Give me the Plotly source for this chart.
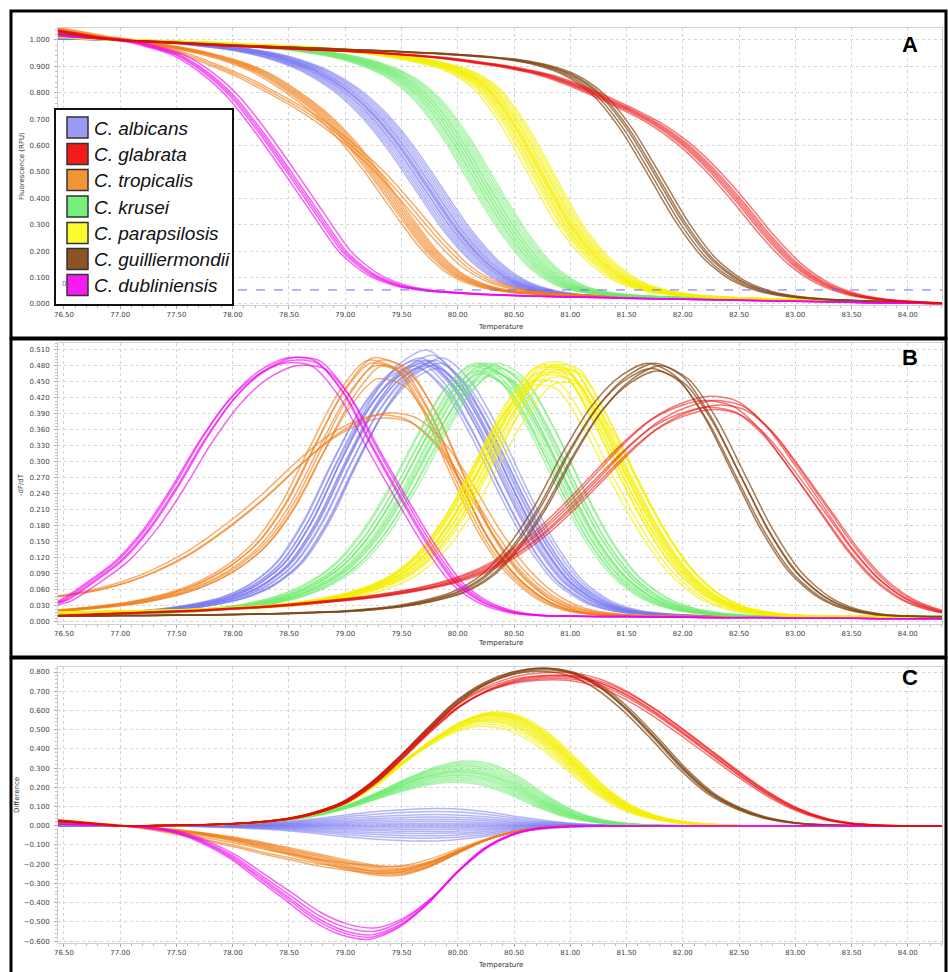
import plotly.graph_objects as go

# ---------------- data ----------------
TEMPS = [76.25, 76.50, 76.75, 77.00, 77.25, 77.50, 77.75, 78.00, 78.25, 78.50, 78.75,
         79.00, 79.25, 79.50, 79.75, 80.00, 80.25, 80.50, 80.75, 81.00, 81.25, 81.50,
         81.75, 82.00, 82.25, 82.50, 82.75, 83.00, 83.25, 83.50, 83.75, 84.00, 84.25, 84.50]

SPECIES = ["C. albicans", "C. glabrata", "C. tropicalis", "C. krusei",
           "C. parapsilosis", "C. guilliermondii", "C. dubliniensis"]

# Panel A : normalised fluorescence (RFU)
A_albicans = [1.007, 1.005, 1.002, 1.0, 0.995, 0.99, 0.981, 0.968, 0.95, 0.922, 0.88, 0.815, 0.72, 0.59, 0.435, 0.28, 0.16,
              0.085, 0.05, 0.035, 0.029, 0.026, 0.023, 0.021, 0.019, 0.017, 0.015, 0.013, 0.011, 0.009, 0.007, 0.005, 0.004, 0.003]
A_glabrata = [1.045, 1.03, 1.012, 1.0, 0.993, 0.988, 0.982, 0.977, 0.972, 0.967, 0.962, 0.958, 0.952, 0.945, 0.936, 0.925,
              0.91, 0.893, 0.87, 0.835, 0.79, 0.74, 0.685, 0.61, 0.51, 0.39, 0.26, 0.15, 0.078, 0.038, 0.018, 0.009, 0.004, 0.002]
A_tropicalis = [1.045, 1.03, 1.012, 1.0, 0.987, 0.97, 0.948, 0.918, 0.875, 0.81, 0.73, 0.625, 0.49, 0.34, 0.2, 0.107, 0.064,
                0.045, 0.037, 0.033, 0.03, 0.028, 0.026, 0.024, 0.022, 0.019, 0.016, 0.013, 0.01, 0.008, 0.005, 0.003, 0.002, 0.001]
A_tropicalis_broad = [1.05, 1.035, 1.015, 1.0, 0.975, 0.945, 0.905, 0.86, 0.805, 0.745, 0.675, 0.59, 0.49, 0.37, 0.245, 0.14,
                      0.08, 0.052, 0.04, 0.034, 0.03, 0.028, 0.026, 0.024, 0.022, 0.019, 0.016, 0.013, 0.01, 0.008, 0.005, 0.003, 0.002, 0.001]
A_krusei = [1.015, 1.01, 1.004, 1.0, 0.996, 0.993, 0.988, 0.982, 0.975, 0.966, 0.953, 0.935, 0.905, 0.855, 0.765, 0.62, 0.44,
            0.27, 0.14, 0.07, 0.042, 0.032, 0.027, 0.024, 0.022, 0.02, 0.017, 0.015, 0.012, 0.01, 0.007, 0.005, 0.004, 0.003]
A_parapsilosis = [1.02, 1.015, 1.005, 1.0, 0.997, 0.993, 0.99, 0.985, 0.98, 0.975, 0.968, 0.96, 0.95, 0.935, 0.915, 0.885,
                  0.82, 0.68, 0.49, 0.3, 0.17, 0.09, 0.052, 0.035, 0.027, 0.022, 0.019, 0.016, 0.013, 0.01, 0.007, 0.005, 0.004, 0.003]
A_guilliermondii = [1.03, 1.02, 1.008, 1.0, 0.995, 0.99, 0.985, 0.98, 0.976, 0.972, 0.968, 0.964, 0.96, 0.955, 0.95, 0.944,
                    0.936, 0.925, 0.905, 0.868, 0.795, 0.665, 0.49, 0.31, 0.17, 0.088, 0.046, 0.027, 0.018, 0.013, 0.009, 0.005, 0.003, 0.002]
A_dubliniensis = [1.03, 1.015, 1.007, 1.0, 0.978, 0.945, 0.88, 0.785, 0.65, 0.5, 0.345, 0.195, 0.11, 0.068, 0.05, 0.042,
                  0.036, 0.032, 0.029, 0.026, 0.024, 0.022, 0.02, 0.018, 0.016, 0.014, 0.012, 0.01, 0.008, 0.006, 0.004, 0.003, 0.002, 0.001]

# Panel B : -dF/dT
B_albicans = [0.013, 0.014, 0.015, 0.017, 0.02, 0.025, 0.033, 0.045, 0.068, 0.11, 0.19, 0.3, 0.4, 0.465, 0.49, 0.445, 0.355,
              0.245, 0.145, 0.075, 0.038, 0.021, 0.015, 0.012, 0.011, 0.01, 0.01, 0.01, 0.009, 0.009, 0.009, 0.008, 0.008, 0.008]
B_glabrata = [0.011, 0.012, 0.014, 0.016, 0.018, 0.02, 0.022, 0.025, 0.028, 0.032, 0.037, 0.042, 0.048, 0.056, 0.066, 0.08,
              0.1, 0.13, 0.17, 0.22, 0.275, 0.33, 0.375, 0.402, 0.415, 0.405, 0.36, 0.29, 0.215, 0.14, 0.08, 0.042, 0.022, 0.013]
B_tropicalis = [0.018, 0.022, 0.027, 0.033, 0.042, 0.055, 0.075, 0.105, 0.15, 0.225, 0.33, 0.43, 0.49, 0.475, 0.395, 0.275,
                0.165, 0.09, 0.045, 0.022, 0.014, 0.012, 0.011, 0.01, 0.01, 0.009, 0.009, 0.008, 0.008, 0.008, 0.007, 0.007, 0.007, 0.007]
B_tropicalis_broad = [0.045, 0.052, 0.062, 0.077, 0.098, 0.125, 0.16, 0.2, 0.245, 0.295, 0.34, 0.372, 0.388, 0.38, 0.335,
                      0.26, 0.172, 0.1, 0.052, 0.026, 0.016, 0.012, 0.011, 0.01, 0.01, 0.009, 0.009, 0.008, 0.008, 0.008, 0.007, 0.007, 0.007, 0.007]
B_krusei = [0.013, 0.014, 0.015, 0.016, 0.017, 0.019, 0.022, 0.027, 0.035, 0.048, 0.07, 0.105, 0.165, 0.25, 0.35, 0.44, 0.485,
            0.455, 0.365, 0.255, 0.155, 0.085, 0.045, 0.025, 0.016, 0.012, 0.011, 0.01, 0.01, 0.009, 0.009, 0.008, 0.008, 0.008]
B_parapsilosis = [0.017, 0.018, 0.019, 0.02, 0.021, 0.022, 0.024, 0.026, 0.029, 0.033, 0.04, 0.05, 0.065, 0.09, 0.135, 0.21,
                  0.31, 0.41, 0.475, 0.47, 0.385, 0.275, 0.175, 0.098, 0.05, 0.026, 0.016, 0.012, 0.011, 0.01, 0.01, 0.009, 0.009, 0.009]
B_guilliermondii = [0.011, 0.011, 0.011, 0.012, 0.012, 0.013, 0.013, 0.014, 0.015, 0.016, 0.018, 0.02, 0.024, 0.03, 0.04,
                    0.055, 0.085, 0.14, 0.22, 0.32, 0.405, 0.46, 0.485, 0.46, 0.385, 0.28, 0.175, 0.095, 0.048, 0.024, 0.014, 0.011, 0.01, 0.01]
B_dubliniensis = [0.028, 0.04, 0.075, 0.115, 0.175, 0.255, 0.345, 0.42, 0.47, 0.495, 0.49, 0.43, 0.33, 0.235, 0.145, 0.072,
                  0.035, 0.018, 0.012, 0.011, 0.01, 0.01, 0.009, 0.009, 0.008, 0.008, 0.008, 0.007, 0.007, 0.007, 0.006, 0.006, 0.006, 0.006]

# Panel C : difference
C_albicans = [0, 0, 0, 0, 0, 0.002, 0.005, 0.01, 0.017, 0.027, 0.042, 0.06, 0.075, 0.085, 0.09, 0.085, 0.068, 0.045, 0.025,
              0.011, 0.004, 0.001, 0, 0, 0, 0, 0, 0, 0, 0, 0, 0, 0, 0]
C_glabrata = [0.035, 0.025, 0.012, 0, 0, 0.002, 0.005, 0.01, 0.02, 0.037, 0.07, 0.125, 0.225, 0.36, 0.5, 0.625, 0.71, 0.76,
              0.78, 0.78, 0.75, 0.685, 0.595, 0.49, 0.38, 0.27, 0.17, 0.09, 0.038, 0.012, 0.003, 0, 0, 0]
C_tropicalis = [0.03, 0.022, 0.011, 0, -0.01, -0.025, -0.045, -0.07, -0.1, -0.135, -0.17, -0.205, -0.235, -0.24, -0.205, -0.14,
                -0.075, -0.032, -0.01, -0.002, 0, 0, 0, 0, 0, 0, 0, 0, 0, 0, 0, 0, 0, 0]
C_tropicalis_broad = [0.035, 0.026, 0.013, 0, -0.02, -0.045, -0.075, -0.105, -0.14, -0.17, -0.2, -0.22, -0.235, -0.225, -0.18,
                      -0.12, -0.065, -0.028, -0.008, 0, 0, 0, 0, 0, 0, 0, 0, 0, 0, 0, 0, 0, 0, 0]
C_krusei = [0.015, 0.01, 0.005, 0, 0, 0.002, 0.005, 0.01, 0.02, 0.035, 0.06, 0.1, 0.155, 0.215, 0.265, 0.29, 0.275, 0.215, 0.13,
            0.062, 0.025, 0.008, 0.002, 0, 0, 0, 0, 0, 0, 0, 0, 0, 0, 0]
C_parapsilosis = [0.02, 0.015, 0.008, 0, 0, 0.002, 0.005, 0.01, 0.02, 0.038, 0.07, 0.125, 0.215, 0.33, 0.44, 0.53, 0.575, 0.555,
                  0.47, 0.34, 0.2, 0.1, 0.045, 0.018, 0.006, 0, 0, 0, 0, 0, 0, 0, 0, 0]
C_guilliermondii = [0.03, 0.02, 0.01, 0, 0, 0.002, 0.005, 0.01, 0.02, 0.037, 0.07, 0.125, 0.225, 0.36, 0.51, 0.65, 0.745, 0.8,
                    0.82, 0.8, 0.73, 0.61, 0.46, 0.3, 0.17, 0.09, 0.04, 0.015, 0.005, 0.001, 0, 0, 0, 0]
C_dubliniensis = [0.01, 0.008, 0.004, 0, -0.01, -0.035, -0.09, -0.17, -0.28, -0.39, -0.5, -0.57, -0.59, -0.53, -0.41, -0.25,
                  -0.12, -0.045, -0.012, -0.003, 0, 0, 0, 0, 0, 0, 0, 0, 0, 0, 0, 0, 0, 0]

# replicate wells: temperature offsets and amplitude factors (B and C)
SHIFT_albicans = [-0.13, -0.11, -0.09, -0.07, -0.05, -0.04, -0.02, -0.01, 0.0, 0.01, 0.03, 0.04, 0.06, 0.08, 0.10, 0.12]
BSCALE_albicans = [0.98, 1.0, 0.97, 1.01, 0.99, 1.0, 1.04, 0.98, 1.0, 0.99, 1.02, 0.98, 1.0, 0.97, 0.99, 1.01]
CSCALE_albicans = [-0.88, -0.72, -0.58, -0.45, -0.33, -0.22, -0.12, -0.03, 0.06, 0.15, 0.26, 0.38, 0.5, 0.65, 0.82, 1.0]

SHIFT_glabrata = [-0.06, -0.03, -0.01, 0.01, 0.03, 0.06]
BSCALE_glabrata = [1.0, 0.97, 1.02, 0.96, 1.0, 0.98]
CSCALE_glabrata = [0.97, 1.0, 0.98, 1.02, 0.99, 1.0]

SHIFT_tropicalis = [-0.06, -0.03, -0.01, 0.01, 0.03, 0.05, 0.07]
BSCALE_tropicalis = [1.0, 0.99, 1.01, 0.98, 0.93, 1.0, 0.98]
CSCALE_tropicalis = [1.08, 1.05, 1.02, 0.99, 0.95, 0.92, 0.88]
SHIFT_tropicalis_broad = [0.04, 0.08, 0.12]
BSCALE_tropicalis_broad = [1.0, 0.985, 1.01]
CSCALE_tropicalis_broad = [1.05, 1.0, 0.9]

SHIFT_krusei = [-0.12, -0.10, -0.08, -0.06, -0.05, -0.03, -0.02, 0.0, 0.01, 0.03, 0.04, 0.06, 0.08, 0.10, 0.12]
BSCALE_krusei = [0.99, 1.0, 0.97, 1.0, 0.96, 0.99, 1.0, 0.98, 0.95, 1.0, 0.97, 0.99, 0.96, 1.0, 0.98]
CSCALE_krusei = [0.78, 0.81, 0.84, 0.87, 0.9, 0.92, 0.95, 0.97, 0.99, 1.01, 1.04, 1.07, 1.1, 1.13, 1.16]

SHIFT_parapsilosis = [-0.12, -0.09, -0.07, -0.05, -0.04, -0.02, -0.01, 0.0, 0.01, 0.02, 0.04, 0.05, 0.07, 0.09, 0.11]
BSCALE_parapsilosis = [0.93, 0.95, 1.0, 0.98, 1.01, 0.97, 1.0, 0.99, 1.02, 0.98, 1.0, 0.96, 1.01, 0.99, 0.94]
CSCALE_parapsilosis = [0.9, 0.92, 0.94, 0.95, 0.96, 0.97, 0.98, 0.99, 1.0, 1.0, 1.01, 1.01, 1.02, 1.02, 1.03]

SHIFT_guilliermondii = [-0.06, -0.03, 0.0, 0.02, 0.05]
BSCALE_guilliermondii = [1.0, 0.98, 1.0, 0.97, 0.99]
CSCALE_guilliermondii = [0.98, 1.0, 1.0, 0.99, 1.0]

SHIFT_dubliniensis = [-0.05, -0.02, 0.0, 0.02, 0.06]
BSCALE_dubliniensis = [0.98, 1.0, 0.99, 1.0, 0.97]
CSCALE_dubliniensis = [1.0, 0.98, 0.96, 0.93, 0.9]

THRESHOLD = 0.053

# tick values
X_TICKS = [76.5, 77.0, 77.5, 78.0, 78.5, 79.0, 79.5, 80.0, 80.5, 81.0, 81.5, 82.0, 82.5, 83.0, 83.5, 84.0]

# ---------------- styling ----------------
W, H = 948, 972
LINE = {
    "C. albicans": "rgba(120,120,240,0.55)",
    "C. glabrata": "rgba(235,10,10,0.55)",
    "C. tropicalis": "rgba(240,125,20,0.62)",
    "C. krusei": "rgba(110,235,110,0.55)",
    "C. parapsilosis": "rgba(245,240,0,0.65)",
    "C. guilliermondii": "rgba(130,72,22,0.72)",
    "C. dubliniensis": "rgba(240,0,240,0.62)",
}
SWATCH = {
    "C. albicans": "#9b9bf5",
    "C. glabrata": "#f01c1c",
    "C. tropicalis": "#f59436",
    "C. krusei": "#76ee7a",
    "C. parapsilosis": "#fbfb30",
    "C. guilliermondii": "#8c5424",
    "C. dubliniensis": "#f51cf0",
}

def px(x):
    return x / W

def py(y):
    return 1 - y / H

groups = [
    ("C. albicans", A_albicans, B_albicans, C_albicans, SHIFT_albicans, BSCALE_albicans, CSCALE_albicans),
    ("C. tropicalis", A_tropicalis, B_tropicalis, C_tropicalis, SHIFT_tropicalis, BSCALE_tropicalis, CSCALE_tropicalis),
    ("C. tropicalis", A_tropicalis_broad, B_tropicalis_broad, C_tropicalis_broad, SHIFT_tropicalis_broad,
     BSCALE_tropicalis_broad, CSCALE_tropicalis_broad),
    ("C. krusei", A_krusei, B_krusei, C_krusei, SHIFT_krusei, BSCALE_krusei, CSCALE_krusei),
    ("C. parapsilosis", A_parapsilosis, B_parapsilosis, C_parapsilosis, SHIFT_parapsilosis, BSCALE_parapsilosis,
     CSCALE_parapsilosis),
    ("C. guilliermondii", A_guilliermondii, B_guilliermondii, C_guilliermondii, SHIFT_guilliermondii,
     BSCALE_guilliermondii, CSCALE_guilliermondii),
    ("C. dubliniensis", A_dubliniensis, B_dubliniensis, C_dubliniensis, SHIFT_dubliniensis, BSCALE_dubliniensis,
     CSCALE_dubliniensis),
    ("C. glabrata", A_glabrata, B_glabrata, C_glabrata, SHIFT_glabrata, BSCALE_glabrata, CSCALE_glabrata),
]

fig = go.Figure()
for sp, a, b, c, shifts, bsc, csc in groups:
    col = LINE[sp]
    for s, kb, kc in zip(shifts, bsc, csc):
        xs = [t + s for t in TEMPS]
        common = dict(mode="lines", line=dict(color=col, width=1.5, shape="spline", smoothing=0.8),
                      showlegend=False, hoverinfo="skip")
        fig.add_trace(go.Scatter(x=xs, y=a, xaxis="x", yaxis="y", **common))
        fig.add_trace(go.Scatter(x=xs, y=[v * kb for v in b], xaxis="x2", yaxis="y2", **common))
        fig.add_trace(go.Scatter(x=[t + s * 0.5 for t in TEMPS], y=[v * kc for v in c], xaxis="x3", yaxis="y3",
                                 **common))

XR = [76.447, 84.304]
XDOM = [px(58), px(942)]
tickfont = dict(family="DejaVu Sans", size=7, color="#444")

def xaxis(anchor):
    return dict(domain=XDOM, range=XR, anchor=anchor, tickvals=X_TICKS, tickformat=".2f",
                showgrid=True, gridcolor="#d4d4d4", griddash="dot", gridwidth=1,
                showline=True, mirror=True, linecolor="#d0d0d0", linewidth=1,
                ticks="outside", ticklen=3, tickcolor="#aaa", tickfont=tickfont,
                minor=dict(ticks="outside", ticklen=2, dtick=0.1, tick0=76.5, tickcolor="#bbb", showgrid=False),
                zeroline=False, automargin=False, fixedrange=True)

def yaxis(anchor, dom, rng, dtick, minor):
    return dict(domain=dom, range=rng, anchor=anchor, dtick=dtick, tick0=0, tickformat=".3f",
                showgrid=True, gridcolor="#d4d4d4", griddash="dot", gridwidth=1,
                showline=True, mirror=True, linecolor="#d0d0d0", linewidth=1,
                ticks="outside", ticklen=3, tickcolor="#aaa", tickfont=tickfont, ticklabelstandoff=3,
                minor=dict(ticks="outside", ticklen=2, dtick=minor, tick0=0, tickcolor="#bbb", showgrid=False),
                zeroline=False, automargin=False, fixedrange=True)

fig.update_layout(
    width=W, height=H, margin=dict(l=0, r=0, t=0, b=0),
    paper_bgcolor="white", plot_bgcolor="white",
    xaxis=xaxis("y"), xaxis2=xaxis("y2"), xaxis3=xaxis("y3"),
    yaxis=yaxis("x", [py(305), py(28)], [-0.004, 1.045], 0.1, 0.02),
    yaxis2=yaxis("x2", [py(624), py(343)], [-0.004, 0.523], 0.03, 0.006),
    yaxis3=yaxis("x3", [py(943), py(667)], [-0.61, 0.826], 0.1, 0.02),
)

shapes = []
shapes.append(dict(type="line", xref="x", yref="y", x0=XR[0], x1=XR[1], y0=THRESHOLD, y1=THRESHOLD,
                   line=dict(color="#6a6aee", width=1, dash="dash"), layer="above"))
for (y0, y1) in [(11, 338), (339, 657), (658, 990)]:
    shapes.append(dict(type="rect", xref="paper", yref="paper", x0=px(11), x1=px(946), y0=py(y1), y1=py(y0),
                       line=dict(color="black", width=3), fillcolor="rgba(0,0,0,0)", layer="above"))
shapes.append(dict(type="rect", xref="paper", yref="paper", x0=px(55), x1=px(233), y0=py(305), y1=py(109),
                   line=dict(color="#111", width=2), fillcolor="white", layer="above"))
annotations = []
row_top = [117, 143.5, 169.5, 196, 222.5, 248.5, 274.5]
for sp, top in zip(SPECIES, row_top):
    shapes.append(dict(type="rect", xref="paper", yref="paper", x0=px(67), x1=px(88), y0=py(top + 21), y1=py(top),
                       line=dict(color="#333", width=1.5), fillcolor=SWATCH[sp], layer="above"))
    annotations.append(dict(xref="paper", yref="paper", x=px(92), y=py(top + 11), text=sp, showarrow=False,
                            xanchor="left", yanchor="middle",
                            font=dict(family="Liberation Sans, Arial", size=19, color="#111", style="italic")))

for lab, yy in [("A", 45), ("B", 358), ("C", 677)]:
    annotations.append(dict(xref="paper", yref="paper", x=px(910), y=py(yy), text="<b>%s</b>" % lab, showarrow=False,
                            xanchor="center", yanchor="middle",
                            font=dict(family="Liberation Sans, Arial", size=22, color="black")))
title_font = dict(family="DejaVu Sans", size=7, color="#333")
for yy in [327, 643, 965]:
    annotations.append(dict(xref="paper", yref="paper", x=px(500), y=py(yy), text="Temperature", showarrow=False,
                            xanchor="center", yanchor="middle", font=title_font))
for txt, xx, yy in [("Fluorescence (RFU)", 22, 166), ("-dF/dT", 21, 485), ("Difference", 17, 795)]:
    annotations.append(dict(xref="paper", yref="paper", x=px(xx), y=py(yy), text=txt, showarrow=False,
                            textangle=-90, xanchor="center", yanchor="middle", font=title_font))
# threshold label peeking at the left of panel A
annotations.append(dict(xref="paper", yref="y", x=px(60), y=THRESHOLD, text="0", showarrow=False,
                        xanchor="left", yanchor="bottom", font=dict(family="DejaVu Sans", size=7, color="#6a6aee")))

fig.update_layout(shapes=shapes, annotations=annotations)
fig.write_html("out.html", config={"displayModeBar": False, "staticPlot": True},
               post_script="document.body.style.margin='0px';document.body.style.overflow='hidden';")
